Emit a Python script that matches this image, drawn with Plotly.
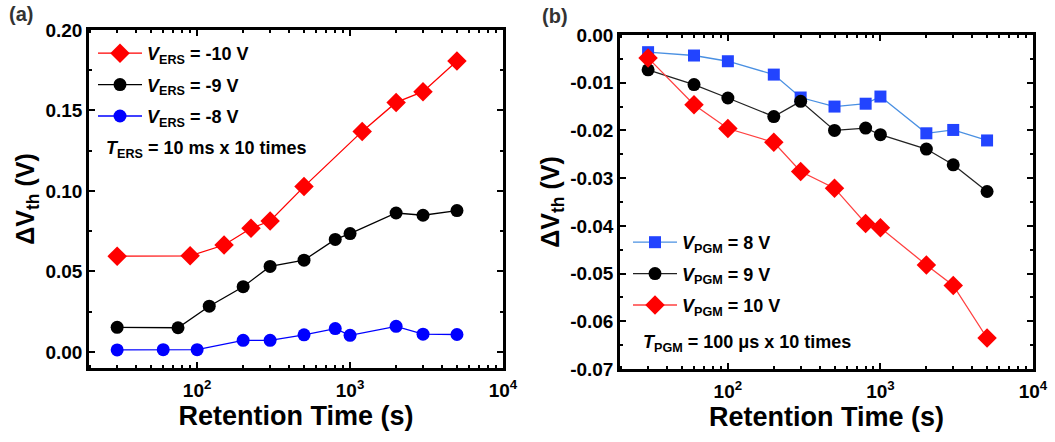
import plotly.graph_objects as go

# ---------------- data (a) erase retention ----------------
t_ers_10 = [30, 90, 150, 225, 300, 500, 1200, 2000, 3000, 5000]
dv_ers_10 = [0.0595, 0.0597, 0.0664, 0.0768, 0.0813, 0.1027, 0.137, 0.155, 0.1617, 0.1808]
t_ers_9 = [30, 75, 120, 200, 300, 500, 800, 1000, 2000, 3000, 5000]
dv_ers_9 = [0.0153, 0.0150, 0.0284, 0.0405, 0.0531, 0.057, 0.0699, 0.0735, 0.0863, 0.0849, 0.0878]
t_ers_8 = [30, 60, 100, 200, 300, 500, 800, 1000, 2000, 3000, 5000]
dv_ers_8 = [0.0012, 0.0014, 0.0014, 0.0072, 0.0072, 0.0106, 0.0145, 0.0103, 0.0159, 0.011, 0.0108]

# ---------------- data (b) program retention ----------------
t_pgm = [30, 60, 100, 200, 300, 500, 800, 1000, 2000, 3000, 5000]
dv_pgm_8 = [-0.0036, -0.0043, -0.0055, -0.0083, -0.0131, -0.015, -0.0144, -0.0129, -0.0206, -0.0199, -0.0221]
dv_pgm_9 = [-0.0073, -0.0104, -0.0132, -0.0171, -0.0139, -0.020, -0.0195, -0.0209, -0.0239, -0.0272, -0.0328]
dv_pgm_10 = [-0.0048, -0.0146, -0.0196, -0.0225, -0.0286, -0.0321, -0.0395, -0.0404, -0.0482, -0.0525, -0.0635]

# ---------------- tick labels ----------------
x_tickvals = [100, 1000, 10000]
x_ticktext = ["10<sup>2</sup>", "10<sup>3</sup>", "10<sup>4</sup>"]
x_minor = [20, 30, 40, 50, 60, 70, 80, 90, 200, 300, 400, 500, 600, 700, 800, 900,
           2000, 3000, 4000, 5000, 6000, 7000, 8000, 9000]
ya_tickvals = [0.0, 0.05, 0.10, 0.15, 0.20]
ya_ticktext = ["0.00", "0.05", "0.10", "0.15", "0.20"]
ya_minor = [0.025, 0.075, 0.125, 0.175]
yb_tickvals = [0.0, -0.01, -0.02, -0.03, -0.04, -0.05, -0.06, -0.07]
yb_ticktext = ["0.00", "-0.01", "-0.02", "-0.03", "-0.04", "-0.05", "-0.06", "-0.07"]
yb_minor = [-0.005, -0.015, -0.025, -0.035, -0.045, -0.055, -0.065]

FONT = "Liberation Sans, Arial, sans-serif"
W, H = 1055, 442

fig = go.Figure()

def add(x, y, name, color, symbol, size, xa, ya, legend, group, linecolor=None):
    fig.add_trace(go.Scatter(
        x=x, y=y, name=name, mode="lines+markers",
        line=dict(color=linecolor or color, width=1.3),
        marker=dict(color=color, symbol=symbol, size=size, line=dict(width=0)),
        xaxis=xa, yaxis=ya, legend=legend, legendgroup=group))

add(t_ers_10, dv_ers_10, "<i>V</i><sub>ERS</sub> = -10 V", "#FF0000", "diamond", 15, "x", "y", "legend", "a1")
add(t_ers_9, dv_ers_9, "<i>V</i><sub>ERS</sub> = -9 V", "#000000", "circle", 13, "x", "y", "legend", "a2")
add(t_ers_8, dv_ers_8, "<i>V</i><sub>ERS</sub> = -8 V", "#0000FF", "circle", 13, "x", "y", "legend", "a3")

add(t_pgm, dv_pgm_8, "<i>V</i><sub>PGM</sub> = 8 V", "#2244FF", "square", 12, "x2", "y2", "legend2", "b1", "#4A90E2")
add(t_pgm, dv_pgm_9, "<i>V</i><sub>PGM</sub> = 9 V", "#000000", "circle", 13, "x2", "y2", "legend2", "b2", "#222222")
add(t_pgm, dv_pgm_10, "<i>V</i><sub>PGM</sub> = 10 V", "#FF0000", "diamond", 15, "x2", "y2", "legend2", "b3", "#FF4040")

def xax(domain, anchor):
    return dict(type="log", domain=domain, anchor=anchor, range=[1.293, 4.0],
                automargin=False,
                tickmode="array", tickvals=x_tickvals, ticktext=x_ticktext,
                ticks="inside", ticklen=6, tickwidth=2, tickcolor="black",
                ticklabelstandoff=3,
                minor=dict(tickmode="array", tickvals=x_minor, ticks="inside", ticklen=3,
                           tickwidth=1.5, tickcolor="black"),
                showline=True, linewidth=2.5, linecolor="black", mirror="allticks",
                showgrid=False, zeroline=False,
                tickfont=dict(family=FONT, size=19, color="black", weight="bold"),
                title=dict(text="Retention Time (s)", standoff=5,
                           font=dict(family=FONT, size=27, color="black", weight="bold")))

def yax(domain, anchor, rng, tv, tt, mn):
    return dict(domain=domain, anchor=anchor, range=rng, automargin=False,
                tickmode="array", tickvals=tv, ticktext=tt,
                ticks="inside", ticklen=6, tickwidth=2, tickcolor="black",
                minor=dict(tickmode="array", tickvals=mn, ticks="inside", ticklen=3,
                           tickwidth=1.5, tickcolor="black"),
                showline=True, linewidth=2.5, linecolor="black", mirror="allticks",
                showgrid=False, zeroline=False,
                tickfont=dict(family=FONT, size=19, color="black", weight="bold"),
                title=dict(text="ΔV<sub>th</sub> (V)", standoff=4,
                           font=dict(family=FONT, size=25, color="black", weight="bold")))

xa_dom = [89 / W, 503 / W]
xb_dom = [620 / W, 1033 / W]
ya_dom = [1 - 368 / H, 1 - 30 / H]
yb_dom = [1 - 369 / H, 1 - 35 / H]

legend_common = dict(bgcolor="rgba(0,0,0,0)", borderwidth=0, itemwidth=44,
                     font=dict(family=FONT, size=18, color="black", weight="bold"),
                     traceorder="grouped", tracegroupgap=5, xanchor="left", yanchor="top")

fig.update_layout(
    width=W, height=H, margin=dict(l=0, r=0, t=0, b=0, autoexpand=False),
    paper_bgcolor="white", plot_bgcolor="white",
    showlegend=True,
    xaxis=xax(xa_dom, "y"),
    yaxis=yax(ya_dom, "x", [-0.01, 0.2], ya_tickvals, ya_ticktext, ya_minor),
    xaxis2=xax(xb_dom, "y2"),
    yaxis2=yax(yb_dom, "x2", [-0.07, 0.0], yb_tickvals, yb_ticktext, yb_minor),
    legend=dict(x=93 / W, y=1 - 35 / H, **legend_common),
    legend2=dict(x=628 / W, y=1 - 224 / H, **legend_common),
    annotations=[
        dict(text="(a)", x=7 / W, y=1 - 14 / H, xref="paper", yref="paper",
             xanchor="left", yanchor="middle", showarrow=False,
             font=dict(family=FONT, size=20, color="#333333", weight="bold")),
        dict(text="(b)", x=540 / W, y=1 - 16 / H, xref="paper", yref="paper",
             xanchor="left", yanchor="middle", showarrow=False,
             font=dict(family=FONT, size=20, color="#333333", weight="bold")),
        dict(text="<i>T</i><sub>ERS</sub> = 10 ms x 10 times", x=104 / W, y=1 - 149 / H,
             xref="paper", yref="paper", xanchor="left", yanchor="middle", showarrow=False,
             font=dict(family=FONT, size=18, color="black", weight="bold")),
        dict(text="<i>T</i><sub>PGM</sub> = 100 μs x 10 times", x=641 / W, y=1 - 343 / H,
             xref="paper", yref="paper", xanchor="left", yanchor="middle", showarrow=False,
             font=dict(family=FONT, size=18, color="black", weight="bold")),
    ],
)

fig.write_html("out.html")
